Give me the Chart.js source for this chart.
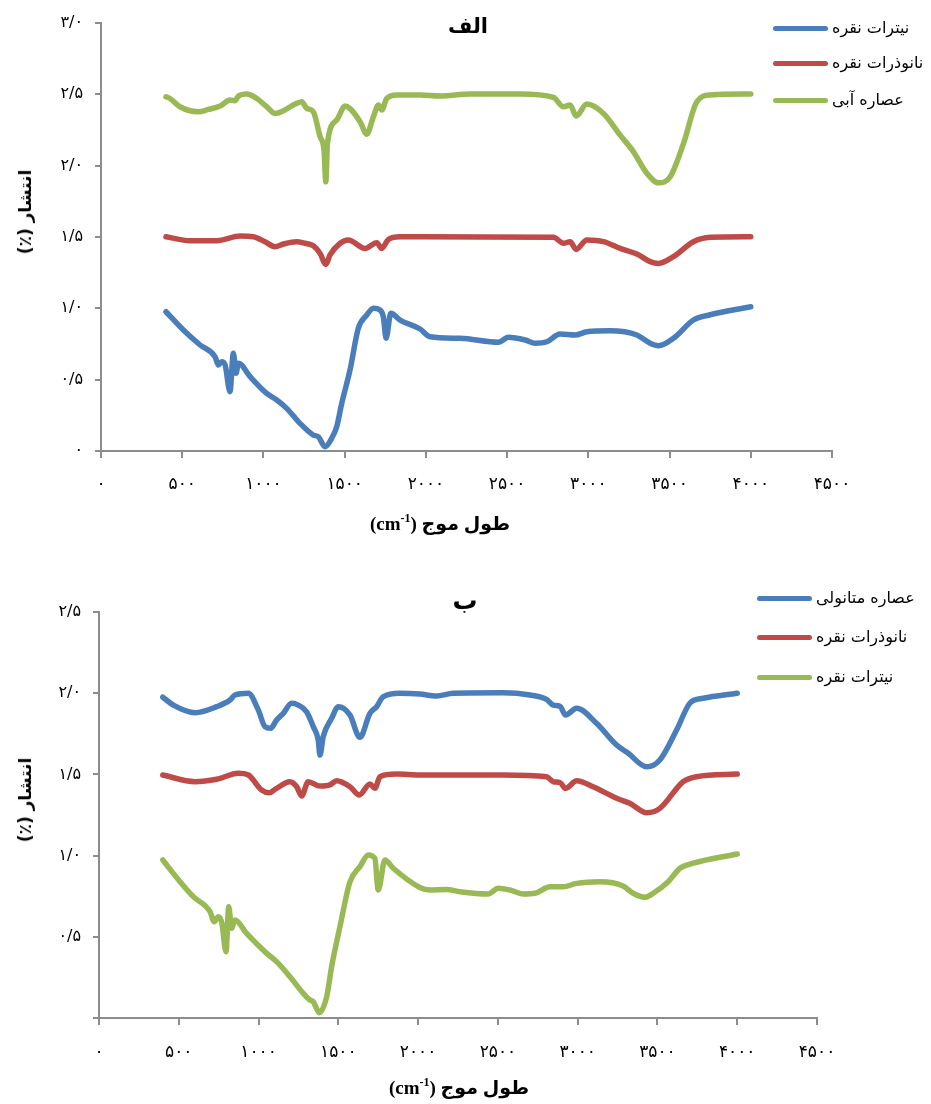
<!DOCTYPE html>
<html lang="fa">
<head>
<meta charset="utf-8">
<script src="https://cdn.jsdelivr.net/npm/chart.js@4.4.1/dist/chart.umd.min.js"></script>
<style>
  body { margin: 0; background: #fff; width: 931px; height: 1104px; position: relative; overflow: hidden; font-family: "DejaVu Sans", sans-serif; }
  canvas { position: absolute; left: 0; }
  .txt { position: absolute; white-space: nowrap; color: #000; z-index: 2; }
  .title { font-weight: bold; font-size: 21px; transform: translate(-50%, -50%); }
  .ytitle { font-weight: bold; font-size: 17px; transform: translate(-50%, -50%) rotate(-90deg); }
  .xtitle { font-weight: bold; font-size: 19px; transform: translate(-50%, -50%); font-family: "Liberation Serif", "DejaVu Sans", serif; }
  .xtitle sup { font-size: 12px; }
  .sw { position: absolute; width: 55px; height: 5px; border-radius: 3px; z-index: 2; }
  .lb { position: absolute; font-size: 16px; transform: translateY(-50%); white-space: nowrap; z-index: 2; }
</style>
</head>
<body>
<canvas id="topChart" width="931" height="560" style="top:0"></canvas>
<canvas id="bottomChart" width="931" height="554" style="top:550px"></canvas>

<div class="txt title" style="left:468px; top:26px" dir="rtl">الف</div>
<div class="txt ytitle" style="left:25px; top:212px" dir="rtl">انتشار (٪)</div>
<div class="txt xtitle" style="left:440px; top:523px" dir="rtl">طول موج (cm<sup>-1</sup>)</div>

<div class="txt title" style="left:465px; top:600px; font-size:25px" dir="rtl">ب</div>
<div class="txt ytitle" style="left:25px; top:800px" dir="rtl">انتشار (٪)</div>
<div class="txt xtitle" style="left:459px; top:1087px" dir="rtl">طول موج (cm<sup>-1</sup>)</div>

<div id="legendTop"></div>
<div id="legendBottom"></div>

<script>
const BLUE = '#4A7EBB';
const RED = '#BE4B48';
const GREEN = '#98B954';

const xTicks = [0, 500, 1000, 1500, 2000, 2500, 3000, 3500, 4000, 4500];

// الف
const topNitrateX = [400, 507, 610, 702, 723, 743, 764, 794, 815, 831, 846, 918, 1020, 1082, 1143, 1225, 1307, 1338, 1379, 1420, 1451, 1482, 1533, 1584, 1636, 1677, 1718, 1738, 1755, 1784, 1841, 1964, 2026, 2211, 2447, 2508, 2611, 2673, 2745, 2826, 2919, 2991, 3134, 3299, 3381, 3432, 3524, 3647, 3750, 4000];
const topNitrateY = [0.976, 0.848, 0.743, 0.661, 0.603, 0.626, 0.603, 0.416, 0.685, 0.545, 0.615, 0.521, 0.404, 0.357, 0.299, 0.194, 0.112, 0.100, 0.030, 0.089, 0.170, 0.334, 0.568, 0.860, 0.953, 1.000, 0.988, 0.941, 0.790, 0.965, 0.918, 0.855, 0.801, 0.790, 0.762, 0.797, 0.778, 0.755, 0.766, 0.820, 0.813, 0.836, 0.843, 0.813, 0.755, 0.738, 0.790, 0.918, 0.955, 1.011];

const topNanoX = [400, 548, 712, 856, 938, 1010, 1071, 1123, 1205, 1256, 1307, 1349, 1384, 1410, 1472, 1523, 1626, 1698, 1728, 1769, 1841, 1964, 2785, 2847, 2888, 2925, 2991, 3093, 3196, 3299, 3381, 3432, 3524, 3647, 3750, 4000];
const topNanoY = [1.502, 1.474, 1.474, 1.507, 1.502, 1.467, 1.432, 1.451, 1.467, 1.456, 1.439, 1.385, 1.308, 1.374, 1.456, 1.479, 1.420, 1.460, 1.420, 1.483, 1.502, 1.502, 1.498, 1.456, 1.467, 1.413, 1.479, 1.467, 1.420, 1.381, 1.327, 1.315, 1.362, 1.467, 1.498, 1.502];

const topAqueousX = [400, 425, 486, 599, 661, 733, 794, 825, 846, 897, 959, 1020, 1071, 1123, 1184, 1236, 1266, 1307, 1349, 1373, 1384, 1394, 1451, 1503, 1533, 1595, 1636, 1677, 1708, 1728, 1759, 1821, 1964, 2088, 2272, 2580, 2785, 2847, 2888, 2925, 2991, 3093, 3196, 3278, 3360, 3432, 3504, 3586, 3668, 3750, 4000];
const topAqueousY = [2.483, 2.471, 2.413, 2.378, 2.394, 2.418, 2.460, 2.455, 2.488, 2.502, 2.471, 2.413, 2.366, 2.385, 2.425, 2.448, 2.402, 2.378, 2.202, 2.109, 1.887, 2.156, 2.320, 2.418, 2.400, 2.308, 2.221, 2.343, 2.425, 2.390, 2.471, 2.495, 2.495, 2.488, 2.502, 2.502, 2.478, 2.413, 2.425, 2.348, 2.432, 2.366, 2.214, 2.097, 1.946, 1.880, 1.922, 2.156, 2.448, 2.495, 2.502];

// ب
const botMethanolX = [400, 466, 602, 737, 821, 852, 936, 998, 1040, 1076, 1113, 1155, 1207, 1249, 1301, 1343, 1374, 1385, 1405, 1458, 1500, 1573, 1635, 1698, 1740, 1781, 1886, 2011, 2116, 2220, 2533, 2701, 2805, 2847, 2889, 2924, 2993, 3118, 3244, 3317, 3432, 3515, 3620, 3703, 3787, 4000];
const botMethanolY = [1.975, 1.927, 1.880, 1.917, 1.958, 1.989, 2.000, 1.897, 1.794, 1.784, 1.835, 1.876, 1.938, 1.927, 1.886, 1.794, 1.712, 1.619, 1.732, 1.845, 1.917, 1.866, 1.728, 1.876, 1.917, 1.978, 2.000, 1.995, 1.983, 2.000, 2.003, 1.989, 1.962, 1.927, 1.920, 1.866, 1.907, 1.815, 1.681, 1.630, 1.547, 1.589, 1.773, 1.938, 1.969, 2.000];

const botNanoX = [400, 602, 737, 873, 936, 1019, 1067, 1103, 1197, 1239, 1270, 1311, 1385, 1447, 1489, 1573, 1631, 1698, 1729, 1761, 1865, 2011, 2533, 2805, 2847, 2889, 2924, 2993, 3097, 3244, 3327, 3432, 3515, 3661, 3745, 4000];
const botNanoY = [1.496, 1.455, 1.470, 1.507, 1.496, 1.404, 1.387, 1.408, 1.455, 1.424, 1.367, 1.455, 1.428, 1.435, 1.461, 1.424, 1.373, 1.441, 1.414, 1.486, 1.502, 1.496, 1.496, 1.486, 1.455, 1.450, 1.414, 1.461, 1.424, 1.353, 1.322, 1.264, 1.291, 1.455, 1.486, 1.502];

const botNitrateX = [400, 508, 591, 696, 722, 748, 769, 796, 813, 831, 852, 925, 1051, 1113, 1197, 1280, 1322, 1343, 1381, 1427, 1458, 1510, 1573, 1635, 1688, 1729, 1750, 1792, 1844, 2011, 2074, 2178, 2262, 2439, 2502, 2575, 2659, 2732, 2826, 2909, 2993, 3139, 3285, 3348, 3421, 3473, 3567, 3641, 3724, 4000];
const botNitrateY = [0.973, 0.839, 0.747, 0.655, 0.593, 0.624, 0.590, 0.408, 0.685, 0.552, 0.603, 0.521, 0.398, 0.347, 0.254, 0.152, 0.111, 0.100, 0.033, 0.131, 0.316, 0.562, 0.839, 0.932, 1.004, 0.983, 0.788, 0.973, 0.922, 0.804, 0.788, 0.792, 0.778, 0.764, 0.799, 0.788, 0.764, 0.768, 0.808, 0.808, 0.829, 0.839, 0.813, 0.768, 0.743, 0.768, 0.839, 0.922, 0.953, 1.010];

const FA_DIGITS = '۰۱۲۳۴۵۶۷۸۹';
function toFa(str) {
  return String(str).replace(/[0-9]/g, (d) => FA_DIGITS[+d]).replace('.', '/');
}

function serie(label, xs, ys, color) {
  return {
    label,
    data: xs.map((x, i) => ({ x, y: ys[i] })),
    borderColor: color,
    backgroundColor: color,
    borderWidth: 5.5,
    borderCapStyle: 'round',
    borderJoinStyle: 'round',
    pointRadius: 0,
    cubicInterpolationMode: 'monotone',
  };
}

function dessinerGraphique(id, datasets, cfg) {
  const axisColor = '#8C8C8C';
  new Chart(document.getElementById(id), {
    type: 'line',
    data: { datasets },
    options: {
      responsive: false,
      animation: false,
      devicePixelRatio: 1,
      layout: { padding: { left: 0, right: cfg.padRight, top: cfg.padTop, bottom: 0 } },
      plugins: { legend: { display: false }, tooltip: { enabled: false } },
      scales: {
        x: {
          type: 'linear',
          min: 0,
          max: 4500,
          afterBuildTicks: (s) => { s.ticks = xTicks.map((v) => ({ value: v })); },
          afterFit: (s) => { s.height = cfg.xHeight; },
          grid: { drawOnChartArea: false, drawTicks: true, tickLength: 7, color: axisColor, lineWidth: 2 },
          border: { color: axisColor, width: 2 },
          ticks: {
            autoSkip: false,
            maxRotation: 0,
            padding: cfg.xPad,
            color: '#000',
            font: { family: 'DejaVu Sans', size: 17 },
            callback: (v) => toFa(v),
          },
        },
        y: {
          min: 0,
          max: cfg.yMax,
          afterFit: (s) => { s.width = cfg.yWidth; },
          grid: { drawOnChartArea: false, drawTicks: true, tickLength: 6, color: axisColor, lineWidth: 2 },
          border: { color: axisColor, width: 2 },
          ticks: {
            stepSize: 0.5,
            padding: 12,
            color: '#000',
            font: { family: 'DejaVu Sans', size: 16 },
            callback: (v) => (v === 0 ? cfg.zeroLabel : toFa(v.toFixed(1))),
          },
        },
      },
    },
  });
}

function legende(id, items, left, tops) {
  const el = document.getElementById(id);
  el.innerHTML = items.map((it, i) =>
    `<div class="sw" style="left:${left}px; top:${tops[i] - 2}px; background:${it.color}"></div>` +
    `<div class="lb" dir="rtl" style="left:${left + 59}px; top:${tops[i] - 1}px">${it.label}</div>`
  ).join('');
}

dessinerGraphique('topChart', [
  serie('عصاره آبی', topAqueousX, topAqueousY, GREEN),
  serie('نانوذرات نقره', topNanoX, topNanoY, RED),
  serie('نیترات نقره', topNitrateX, topNitrateY, BLUE),
], { padRight: 99, padTop: 23, xHeight: 109, yWidth: 101, yMax: 3, xPad: 16, zeroLabel: '۰' });

dessinerGraphique('bottomChart', [
  serie('نیترات نقره', botNitrateX, botNitrateY, GREEN),
  serie('نانوذرات نقره', botNanoX, botNanoY, RED),
  serie('عصاره متانولی', botMethanolX, botMethanolY, BLUE),
], { padRight: 114, padTop: 62, xHeight: 86, yWidth: 99, yMax: 2.5, xPad: 17, zeroLabel: '' });

legende('legendTop', [
  { label: 'نیترات نقره', color: BLUE },
  { label: 'نانوذرات نقره', color: RED },
  { label: 'عصاره آبی', color: GREEN },
], 773, [28, 63, 100]);

legende('legendBottom', [
  { label: 'عصاره متانولی', color: BLUE },
  { label: 'نانوذرات نقره', color: RED },
  { label: 'نیترات نقره', color: GREEN },
], 757, [598, 637, 677]);
</script>
</body>
</html>
